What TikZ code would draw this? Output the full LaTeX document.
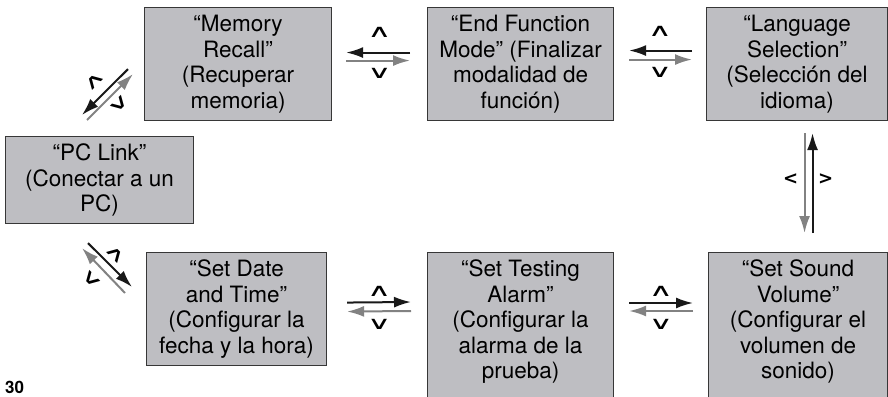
\documentclass[tikz,border=0pt]{standalone}
\usepackage{fontspec}
\setmainfont{TeX Gyre Heros}
\newfontfamily\keyfont{DejaVu Sans}
\usetikzlibrary{arrows.meta,calc}
\definecolor{boxgray}{RGB}{190,190,194}
\definecolor{boxline}{RGB}{55,55,55}
\definecolor{backgray}{RGB}{130,130,130}
\tikzset{
  menubox/.style={draw=boxline,fill=boxgray,line width=1.1pt,align=center,anchor=north west,
    inner sep=0pt,font=\fontsize{22.5}{25.5}\selectfont},
  fwd/.style={line width=2pt,black!90,-{Latex[length=17pt,width=11pt]}},
  back/.style={line width=2pt,backgray,-{Latex[length=17pt,width=11pt]}},
  key/.style={font=\keyfont\fontsize{22}{22}\selectfont,inner sep=0pt,xscale=1.5,yscale=0.8},
  sidekey/.style={font=\keyfont\bfseries\fontsize{18}{18}\selectfont,inner sep=0pt}
}

\begin{document}
\begin{tikzpicture}[x=1pt,y=-1pt]
	\useasboundingbox (0,0) rectangle (888,396);
	\clip (0,0) rectangle (888,396);
	% menu boxes
	\node[menubox,minimum width=187,minimum height=113] (mem) at (144,7) {“Memory\\Recall”\\(Recuperar\\memoria)};
	\node[menubox,minimum width=186,minimum height=113] (endm) at (427,7) {“End Function\\Mode” (Finalizar\\modalidad de\\función)};
	\node[menubox,minimum width=181,minimum height=113] (lang) at (706,7) {“Language\\Selection”\\(Selección del\\idioma)};
	\node[menubox,minimum width=188,minimum height=87] (pc) at (5,136) {“PC Link”\\(Conectar a un\\PC)};
	\node[menubox,minimum width=180,minimum height=113] (date) at (146,252) {“Set Date\\and Time”\\(Configurar la\\fecha y la hora)};
	\node[menubox,minimum width=186,minimum height=159] (test) at (427,252) {“Set Testing\\Alarm”\\(Configurar la\\alarma de la\\prueba)\\\mbox{}};
	\node[menubox,minimum width=179,minimum height=159] (sound) at (708,252) {“Set Sound\\Volume”\\(Configurar el\\volumen de\\sonido)\\\mbox{}};
	\node[anchor=base west,inner sep=0pt,font=\bfseries\fontsize{17}{17}\selectfont] (pagenum) at (5,393) {30};

	% top row
	\draw[fwd] ($(endm.west)+(-17,-11.5)$) -- ($(mem.east)+(14,-11.5)$);
	\draw[back] ($(mem.east)+(14,-3.5)$) -- ($(endm.west)+(-17,-3.5)$);
	\node[key] (up1) at ($(mem.east)!0.5!(endm.west)+(0,-31.5)$) {∧};
	\node[key] (dn1) at ($(mem.east)!0.5!(endm.west)+(0,9)$) {∨};

	\draw[fwd] ($(lang.west)+(-14,-13.5)$) -- ($(endm.east)+(15,-13.5)$);
	\draw[back] ($(endm.east)+(15,-4.5)$) -- ($(lang.west)+(-14,-4.5)$);
	\node[key] (up2) at ($(endm.east)!0.5!(lang.west)+(0,-32.5)$) {∧};
	\node[key] (dn2) at ($(endm.east)!0.5!(lang.west)+(0,8.5)$) {∨};

	% right column
	\draw[back] ($(lang.south)+(7.5,12)$) -- ($(sound.north)+(6.5,-19)$);
	\draw[fwd] ($(sound.north)+(14.5,-19)$) -- ($(lang.south)+(15.5,12)$);
	\node[sidekey] (lt) at ($(lang.south)+(-6.5,58)$) {<};
	\node[sidekey] (gt) at ($(lang.south)+(28.5,58)$) {>};

	% bottom row
	\draw[fwd] ($(date.east)+(20,-6.5)$) -- ($(test.north west)+(-16,50)$);
	\draw[back] ($(test.north west)+(-16,59)$) -- ($(date.east)+(20,2.5)$);
	\node[key] (up3) at ($(date.east)+(52,-17.5)$) {∧};
	\node[key] (dn3) at ($(date.east)+(52,15.5)$) {∨};

	\draw[fwd] ($(test.north east)+(15,51)$) -- ($(sound.north west)+(-15,51)$);
	\draw[back] ($(sound.north west)+(-15,59)$) -- ($(test.north east)+(15,59)$);
	\node[key] (up4) at ($(test.north east)!0.5!(sound.north west)+(0,39)$) {∧};
	\node[key] (dn4) at ($(test.north east)!0.5!(sound.north west)+(0,72)$) {∨};

	% diagonals to PC Link
	\draw[fwd] ($(mem.south west)+(-16,-52)$) -- ($(pc.north west)+(77,-21)$);
	\draw[back] ($(pc.north west)+(82,-16)$) -- ($(mem.south west)+(-11,-47)$);
	\node[rotate=45,key] (up5) at (94,81) {∧};
	\node[rotate=45,key] (dn5) at (119,104) {∨};

	\draw[fwd] ($(pc.south west)+(83,19)$) -- ($(date.north west)+(-14,35)$);
	\draw[back] ($(date.north west)+(-21,41)$) -- ($(pc.south west)+(77,24)$);
	\node[rotate=-45,key] (up6) at (116,254) {∧};
	\node[rotate=-45,key] (dn6) at (92,279) {∨};
\end{tikzpicture}
\end{document}
